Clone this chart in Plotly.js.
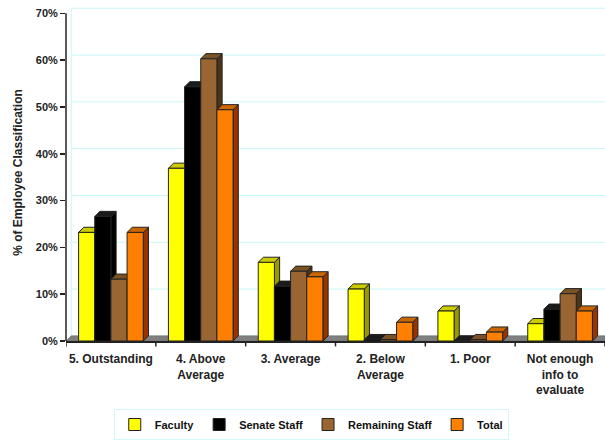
<!DOCTYPE html>
<html>
<head>
<meta charset="utf-8">
<script src="https://cdn.plot.ly/plotly-3.0.1.min.js"></script>
<style>html,body{margin:0;padding:0;background:#fff;}#chart{width:605px;height:440px;}</style>
</head>
<body>
<div id="chart"></div>
<script>
const categories = ["5. Outstanding", "4. Above<br>Average", "3. Average", "2. Below<br>Average", "1. Poor", "Not enough<br>info to<br>evaluate"];
const seriesNames = ["Faculty", "Senate Staff", "Remaining Staff", "Total"];
const faculty   = [23.2, 36.9, 16.8, 11.1, 6.4, 3.7];
const senate    = [26.6, 54.3, 11.7, 0.3, 0.0, 6.8];
const remaining = [13.2, 60.3, 14.9, 0.3, 0.3, 10.1];
const total     = [23.2, 49.4, 13.7, 4.0, 1.9, 6.4];
const yTicks = [0, 10, 20, 30, 40, 50, 60, 70];
const yTickText = ["0%", "10%", "20%", "30%", "40%", "50%", "60%", "70%"];

const seriesValues = [faculty, senate, remaining, total];
const frontColors = ["#FFFF00", "#000000", "#996633", "#FF8000"];
const topColors   = ["#CCCC00", "#1a1a1a", "#7a5226", "#CC6600"];
const sideColors  = ["#999900", "#000000", "#4d3319", "#993300"];

const BARGAP = 0.28;
const N = seriesValues.length;
const W = (1 - BARGAP) / N;
const DX = 0.058;
const DY = 1.1;

const traces = seriesValues.map((vals, i) => ({
  type: "bar",
  name: seriesNames[i],
  x: categories.map((c, j) => j),
  y: vals,
  marker: { color: frontColors[i], line: { color: "#222", width: 1 } },
  hoverinfo: "none"
}));

const shapes = [];
yTicks.forEach(t => {
  shapes.push({ type: "line", layer: "below", xref: "x", yref: "y",
    x0: -0.5 + DX, x1: categories.length - 0.5, y0: t + DY, y1: t + DY,
    line: { color: "#c8f6f6", width: 1 } });
});
shapes.push({ type: "line", layer: "below", xref: "x", yref: "y",
  x0: -0.5 + DX, x1: -0.5 + DX, y0: DY, y1: yTicks[yTicks.length - 1] + DY,
  line: { color: "#c8f6f6", width: 1 } });
shapes.push({ type: "path", layer: "below", xref: "x", yref: "y",
  path: `M ${-0.5},0 L ${-0.5 + DX},${DY} L ${categories.length - 0.5},${DY} L ${categories.length - 0.5},0 Z`,
  fillcolor: "#808080", line: { color: "#666", width: 0.5 } });
for (let j = 0; j < categories.length; j++) {
  for (let i = 0; i < N; i++) {
    const v = seriesValues[i][j];
    const xl = j - (1 - BARGAP) / 2 + i * W;
    const xr = xl + W;
    shapes.push({ type: "path", layer: "between", xref: "x", yref: "y",
      path: `M ${xr},0 L ${xr + DX},${DY} L ${xr + DX},${v + DY} L ${xr},${v} Z`,
      fillcolor: sideColors[i], line: { color: "#222", width: 1 } });
    shapes.push({ type: "path", layer: "between", xref: "x", yref: "y",
      path: `M ${xl},${v} L ${xl + DX},${v + DY} L ${xr + DX},${v + DY} L ${xr},${v} Z`,
      fillcolor: topColors[i], line: { color: "#222", width: 1 } });
  }
}
shapes.push({ type: "line", layer: "above", xref: "paper", yref: "y",
  x0: 0, x1: 0, y0: 0, y1: yTicks[yTicks.length - 1],
  line: { color: "#222", width: 1.5 } });
for (let j = 0; j <= categories.length; j++) {
  shapes.push({ type: "line", layer: "above", xref: "x", yref: "paper",
    x0: j - 0.5, x1: j - 0.5, y0: 0, y1: -0.016, line: { color: "#222", width: 1.5 } });
}

const FAM = "Liberation Sans, Arial, sans-serif";
const tickFontY = { family: FAM, size: 11, color: "#222", weight: "bold" };
const tickFontX = { family: FAM, size: 12, color: "#222", weight: "bold" };
const legendFont = { family: FAM, size: 11, color: "#111", weight: "bold" };

const layout = {
  width: 605, height: 440,
  margin: { l: 66, r: 0, t: 4, b: 99, autoexpand: false },
  paper_bgcolor: "#fff", plot_bgcolor: "#fff",
  barmode: "group", bargap: BARGAP, bargroupgap: 0,
  showlegend: true,
  legend: { orientation: "h", x: 0.455, xanchor: "center",
    yref: "container", y: -0.005, yanchor: "bottom",
    font: legendFont, bordercolor: "#d4f8f8", borderwidth: 1, itemwidth: 30,
    tracegroupgap: 0 },
  xaxis: {
    type: "linear", range: [-0.5, categories.length - 0.5],
    tickvals: categories.map((c, j) => j), ticktext: categories,
    showgrid: false, zeroline: false, showline: true, linecolor: "#222", linewidth: 1.5,
    ticks: "", tickfont: tickFontX, ticklabelstandoff: 6, fixedrange: true
  },
  yaxis: {
    range: [0, 72], tickvals: yTicks, ticktext: yTickText,
    showgrid: false, zeroline: false, showline: false,
    ticks: "outside", ticklen: 5, tickcolor: "#222", tickwidth: 1.5,
    tickfont: tickFontY,
    title: { text: "% of Employee Classification", font: { family: FAM, size: 12, color: "#222", weight: "bold" }, standoff: 10 }
  },
  shapes: shapes
};

Plotly.newPlot("chart", traces, layout, { displayModeBar: false, staticPlot: true });
</script>
</body>
</html>
